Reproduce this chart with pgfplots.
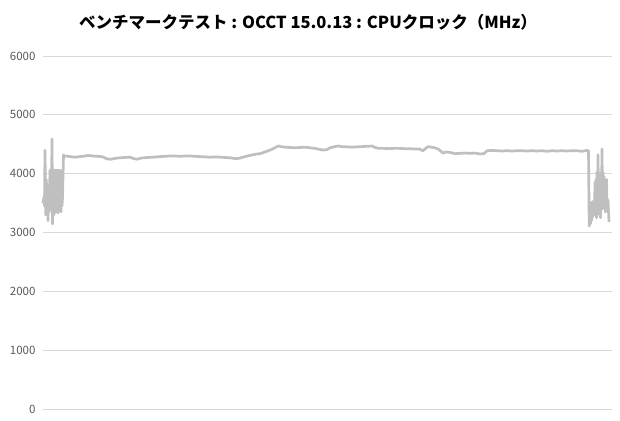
\documentclass[border=0pt]{standalone}
\usepackage{fontspec}
\setmainfont{Noto Sans CJK JP}
\usepackage{pgfplots}
\pgfplotsset{compat=1.18}
\definecolor{linegray}{RGB}{191,191,191}
\definecolor{gridgray}{RGB}{217,217,217}
\definecolor{labelgray}{RGB}{89,89,89}

% CPU clock, x = sample position across the run
\pgfplotstableread{
x y
0 3500
1 3600
1.5 3450
2 4400
2.7 3300
3.3 3900
4 3550
4.5 3800
5 3200
5.6 3700
6.2 3350
7 4060
7.5 3400
8 4060
8.5 3600
9 4590
9.5 3145
10 3500
10.5 4060
11 3300
11.5 4060
12 3450
12.5 4060
13 3350
13.5 4060
14 3500
14.5 4060
15 3330
15.5 4050
16 3600
16.5 4060
17 3400
17.5 4060
18 3350
18.5 4000
19 3450
19.5 3600
20.5 4320
21 4300
25 4295
27 4290
32 4280
37 4290
42 4300
45 4310
50 4300
55 4295
60 4285
64 4250
68 4245
72 4260
77 4270
82 4275
87 4280
90 4260
94 4245
98 4265
104 4275
110 4280
117 4290
122 4295
127 4300
132 4300
137 4295
142 4300
147 4300
152 4295
157 4290
162 4285
167 4280
172 4285
177 4280
182 4275
187 4270
191 4260
194 4255
198 4270
202 4290
207 4310
212 4330
217 4340
222 4370
227 4400
232 4440
235 4470
238 4460
242 4450
247 4445
252 4440
257 4445
262 4450
267 4440
272 4430
276 4415
280 4400
284 4410
287 4440
292 4460
295 4470
299 4460
304 4455
309 4450
314 4455
319 4460
324 4465
329 4470
332 4445
336 4430
341 4430
346 4425
351 4430
356 4430
361 4425
366 4425
371 4420
376 4420
380 4390
382 4420
385 4460
388 4450
392 4440
396 4410
400 4350
403 4370
407 4360
412 4340
417 4345
422 4350
427 4345
432 4350
437 4335
441 4340
444 4390
449 4395
454 4390
459 4385
464 4390
469 4385
474 4390
479 4390
484 4385
489 4390
494 4385
499 4390
504 4380
509 4390
514 4385
519 4390
524 4385
529 4390
534 4390
539 4380
544 4395
545.5 4390
546.2 3110
547 3400
547.5 3150
548 3500
548.5 3200
549 3520
549.5 3260
550 3500
550.5 3300
551 3550
551.5 3300
552 3860
552.5 3350
553 3900
553.5 3250
554 4030
554.5 3400
555 4320
555.5 3500
556 3900
556.5 3300
557 4000
557.5 3250
558 3950
558.5 3500
559 4420
559.5 3400
560 4030
560.5 3500
561 3950
561.5 3600
562 3900
562.5 3350
563 3800
563.5 3900
564 3500
565 3550
566 3180
}\clockdata

\begin{document}
\begin{tikzpicture}[x=1pt,y=1pt]
\path[use as bounding box] (0,0) rectangle (620,420);
\begin{axis}[
  at={(43pt,11pt)}, anchor=south west,
  scale only axis,
  width=569pt, height=353pt,
  xmin=0, xmax=569,
  ymin=0, ymax=6000,
  ytick={0,1000,...,6000},
  xtick=\empty,
  ymajorgrids,
  grid style={gridgray, line width=0.8pt},
  axis line style={draw=none},
  major tick length=0pt,
  yticklabel style={font=\fontsize{11.5}{13}\selectfont, color=labelgray, xshift=-4pt},
  /pgf/number format/assume math mode=true,
  /pgf/number format/1000 sep={},
  clip=false,
]
\addplot[linegray, line width=2.7pt, line join=round, no marks] table[x=x, y=y] {\clockdata};
\end{axis}
\node[font=\fontsize{16.5}{19}\selectfont\bfseries] at (308,398) {ベンチマークテスト : OCCT 15.0.13 : CPUクロック（MHz）};
\end{tikzpicture}
\end{document}
